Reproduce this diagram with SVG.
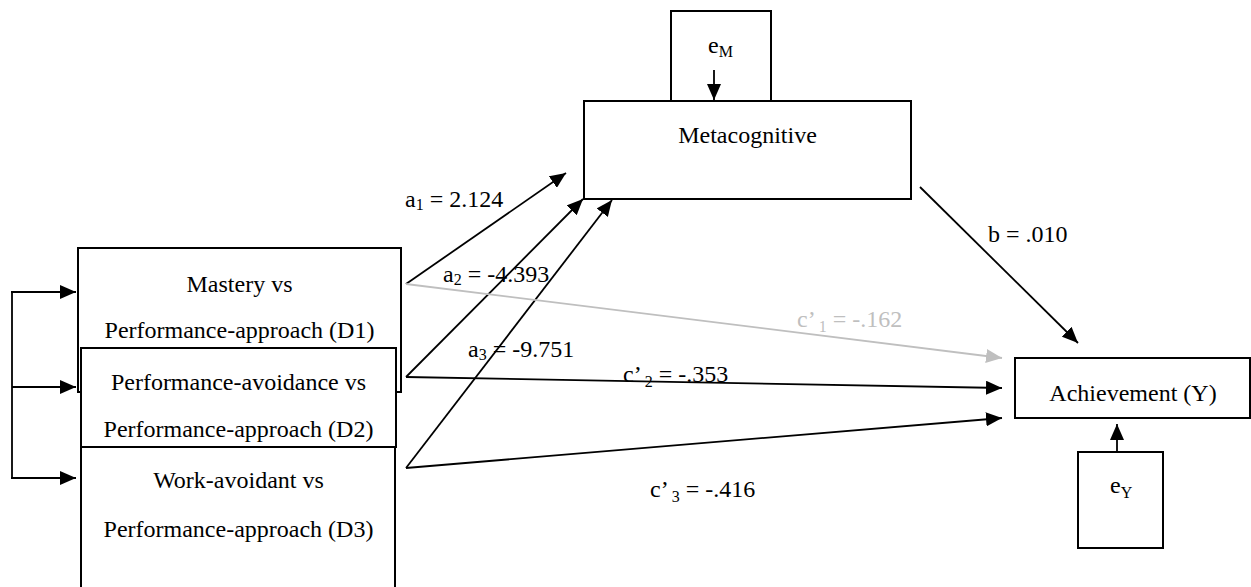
<svg xmlns="http://www.w3.org/2000/svg" width="1251" height="587" viewBox="0 0 1251 587">
<style>
.box{fill:#fff;stroke:#000;stroke-width:2}
.t{font-family:"Liberation Serif","Times New Roman",serif;font-size:24px;fill:#000}
.c{text-anchor:middle}
.lbl{font-family:"Liberation Serif","Times New Roman",serif;font-size:24px;fill:#000}
.sub{font-size:16px}
.gray{fill:#bfbfbf}
.ln{stroke:#000;stroke-width:1.8;fill:none}
.lg{stroke:#bfbfbf;stroke-width:1.8;fill:none}
</style>
<defs>
<marker id="ah" viewBox="0 0 16 14" refX="16" refY="7" markerWidth="16" markerHeight="14" markerUnits="userSpaceOnUse" orient="auto">
<path d="M0,0 L16,7 L0,14 Z" fill="#000"/>
</marker>
<marker id="ahg" viewBox="0 0 16 14" refX="16" refY="7" markerWidth="16" markerHeight="14" markerUnits="userSpaceOnUse" orient="auto">
<path d="M0,0 L16,7 L0,14 Z" fill="#bfbfbf"/>
</marker>
</defs>

<g id="node-eM">
<rect class="box" x="671" y="11" width="100" height="90"/>
<text class="t" x="708" y="53">e<tspan class="sub" dy="4">M</tspan></text>
</g>

<g id="node-metacognitive">
<rect class="box" x="584" y="101" width="327" height="98"/>
<text class="t c" x="747.5" y="143">Metacognitive</text>
</g>

<g id="node-d1">
<rect class="box" x="78" y="248" width="323" height="144"/>
<text class="t c" x="239.5" y="292">Mastery vs</text>
<text class="t c" x="239.5" y="338">Performance-approach (D1)</text>
</g>

<g id="node-d2">
<rect class="box" x="81" y="348" width="315" height="99"/>
<text class="t c" x="238.5" y="390">Performance-avoidance vs</text>
<text class="t c" x="238.5" y="437">Performance-approach (D2)</text>
</g>

<g id="node-d3">
<rect class="box" x="81" y="447" width="314" height="150"/>
<text class="t c" x="238.5" y="488">Work-avoidant vs</text>
<text class="t c" x="238.5" y="537">Performance-approach (D3)</text>
</g>

<g id="node-achievement">
<rect class="box" x="1015" y="358" width="235" height="60"/>
<text class="t c" x="1133" y="401">Achievement (Y)</text>
</g>

<g id="node-eY">
<rect class="box" x="1078" y="452" width="85" height="96"/>
<text class="t" x="1110" y="493">e<tspan class="sub" dy="5">Y</tspan></text>
</g>

<g id="connectors">
<line class="ln" x1="714" y1="70" x2="714" y2="100" marker-end="url(#ah)"/>
<line class="ln" x1="1117" y1="452" x2="1117" y2="424" marker-end="url(#ah)"/>
<line class="ln" x1="12" y1="292" x2="12" y2="478"/>
<line class="ln" x1="11" y1="292" x2="76" y2="292" marker-end="url(#ah)"/>
<line class="ln" x1="12" y1="387" x2="76" y2="387" marker-end="url(#ah)"/>
<line class="ln" x1="11" y1="478" x2="76" y2="478" marker-end="url(#ah)"/>
<line class="ln" x1="406" y1="284" x2="566" y2="173" marker-end="url(#ah)"/>
<line class="ln" x1="406" y1="377" x2="583" y2="199" marker-end="url(#ah)"/>
<line class="ln" x1="406" y1="468" x2="612" y2="200" marker-end="url(#ah)"/>
<line class="lg" x1="406" y1="284" x2="1002" y2="358" marker-end="url(#ahg)"/>
<line class="ln" x1="406" y1="377" x2="1002" y2="388" marker-end="url(#ah)"/>
<line class="ln" x1="406" y1="468" x2="1002" y2="418" marker-end="url(#ah)"/>
<line class="ln" x1="920" y1="187" x2="1078" y2="343" marker-end="url(#ah)"/>
</g>

<g id="labels">
<text class="lbl" x="405" y="207">a<tspan class="sub" dy="3">1</tspan><tspan dy="-3"> = 2.124</tspan></text>
<text class="lbl" x="443" y="282">a<tspan class="sub" dy="3">2</tspan><tspan dy="-3"> = -4.393</tspan></text>
<text class="lbl" x="468" y="357">a<tspan class="sub" dy="3">3</tspan><tspan dy="-3"> = -9.751</tspan></text>
<text class="lbl gray" x="797" y="327">c’<tspan class="sub" dx="3" dy="5">1</tspan><tspan dy="-5"> = -.162</tspan></text>
<text class="lbl" x="623" y="382">c’<tspan class="sub" dx="3" dy="5">2</tspan><tspan dy="-5"> = -.353</tspan></text>
<text class="lbl" x="650" y="497">c’<tspan class="sub" dx="3" dy="5">3</tspan><tspan dy="-5"> = -.416</tspan></text>
<text class="lbl" x="988" y="242">b = .010</text>
</g>
</svg>
